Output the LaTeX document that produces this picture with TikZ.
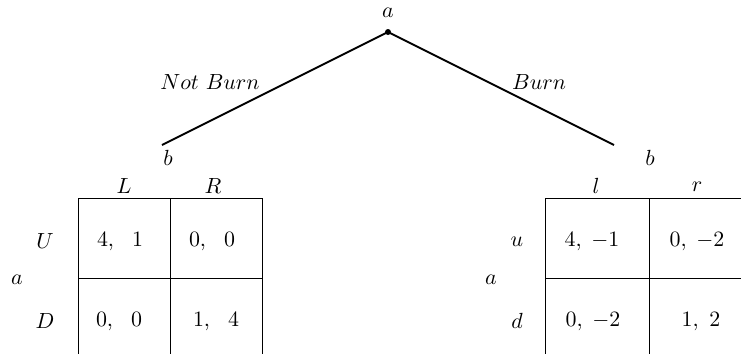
\documentclass[tikz,border=0pt]{standalone}
\begin{document}
\begin{tikzpicture}[x=0.5pt,y=-0.5pt,
  lbl/.style={inner sep=0pt,anchor=center,font=\fontsize{10.5}{12}\selectfont},
  cell/.style={inner sep=0pt,anchor=center,font=\fontsize{11}{13}\selectfont},
  branch/.style={line width=1pt},
  grid/.style={line width=0.5pt}]
\useasboundingbox (0,0) rectangle (741,354);
\clip (0,0) rectangle (741,354);
% tree
\coordinate (root) at (388,32);
\coordinate (lend) at (162,145);
\coordinate (rend) at (614,145);
\fill (root) circle (3);
\node[lbl] (ra) at (388,13) {$a$};
\draw[branch] (root) -- (lend);
\draw[branch] (root) -- (rend);
\node[lbl] (nb) at (210,82) {$Not\ Burn$};
\node[lbl] (bn) at (539,82) {$Burn$};
\node[lbl] (lb) at (168,158) {$b$};
\node[lbl] (rb) at (650,158) {$b$};
% left table
\coordinate (L1) at (78,198);
\coordinate (L2) at (170,198);
\coordinate (L3) at (262,198);
\coordinate (L1b) at (78,354);
\coordinate (L2b) at (170,354);
\coordinate (L3b) at (262,354);
\coordinate (LmL) at (78,278);
\coordinate (LmR) at (262,278);
\draw[grid] (L1) -- (L3);
\draw[grid] (LmL) -- (LmR);
\draw[grid] (L1) -- (L1b);
\draw[grid] (L2) -- (L2b);
\draw[grid] (L3) -- (L3b);
\node[lbl] (lL) at (124,186) {$L$};
\node[lbl] (lR) at (213,186) {$R$};
\node[lbl] (lU) at (45,241) {$U$};
\node[lbl] (lD) at (45,321) {$D$};
\node[lbl] (la) at (17,280) {$a$};
\node[cell] (c11) at (120,242) {$4,\ \ 1$};
\node[cell] (c12) at (212,242) {$0,\ \ 0$};
\node[cell] (c21) at (119,322) {$0,\ \ 0$};
\node[cell] (c22) at (216,322) {$1,\ \ 4$};
% right table
\coordinate (R1) at (545,198);
\coordinate (R2) at (649,198);
\coordinate (R3) at (753,198);
\coordinate (R1b) at (545,354);
\coordinate (R2b) at (649,354);
\coordinate (R3b) at (753,354);
\coordinate (RmL) at (545,278);
\coordinate (RmR) at (753,278);
\draw[grid] (R1) -- (R3);
\draw[grid] (RmL) -- (RmR);
\draw[grid] (R1) -- (R1b);
\draw[grid] (R2) -- (R2b);
\draw[grid] (R3) -- (R3b);
\node[lbl] (rl) at (596,186) {$l$};
\node[lbl] (rr) at (697,187) {$r$};
\node[lbl] (ru) at (517,242) {$u$};
\node[lbl] (rd) at (517,321) {$d$};
\node[lbl] (rA) at (491,280) {$a$};
\node[cell] (d11) at (592,242) {$4,\;-1$};
\node[cell] (d12) at (697,242) {$0,\;-2$};
\node[cell] (d21) at (593,322) {$0,\;-2$};
\node[cell] (d22) at (701,322) {$1,\ 2$};
\end{tikzpicture}
\end{document}
